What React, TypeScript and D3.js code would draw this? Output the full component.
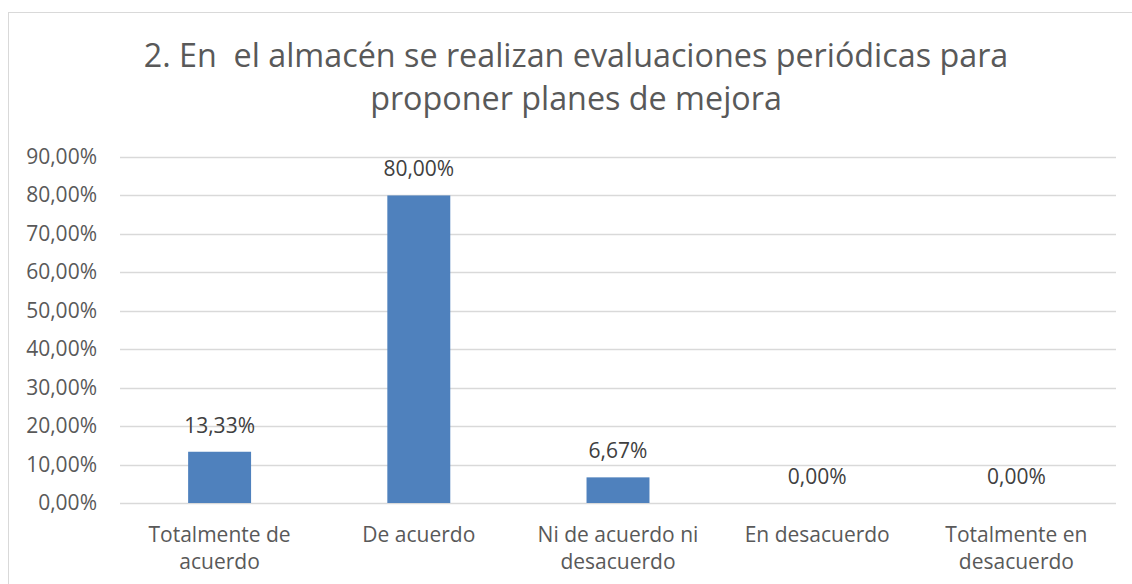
import React from "react";
import * as d3 from "d3";

const categories: string[][] = [
  ["Totalmente de", "acuerdo"],
  ["De acuerdo"],
  ["Ni de acuerdo ni", "desacuerdo"],
  ["En desacuerdo"],
  ["Totalmente en", "desacuerdo"],
];
const values: number[] = [0.1333, 0.8, 0.0667, 0, 0];
const yTicks: number[] = [0, 0.1, 0.2, 0.3, 0.4, 0.5, 0.6, 0.7, 0.8, 0.9];
const titleLines: string[] = [
  "2. En\u00a0 el almacén se realizan evaluaciones periódicas para",
  "proponer planes de mejora",
];

const W = 1132;
const H = 584;
const FONT = "'Open Sans', sans-serif";
const TXT = "#595959";

const fmt = (v: number) => (v * 100).toFixed(2).replace(".", ",") + "%";

export default function App() {
  const left = 120;
  const right = 1116;
  const top = 157;
  const bottom = 503;
  const x = d3
    .scaleBand<number>()
    .domain(d3.range(categories.length))
    .range([left, right])
    .paddingInner(0.684)
    .paddingOuter(0.342);
  const y = d3.scaleLinear().domain([0, 0.9]).range([bottom, top]);

  return (
    <svg
      width={W}
      height={H}
      style={{ position: "absolute", left: 0, top: 0, display: "block", background: "#fff" }}
      fontFamily={FONT}
    >
      <rect x={0} y={0} width={W} height={H} fill="#fff" />
      <rect x={8.5} y={12.5} width={W + 20} height={H + 20} fill="#fff" stroke="#d9d9d9" strokeWidth={1} />
      {titleLines.map((t, i) => (
        <text
          key={i}
          x={576}
          y={67 + i * 43}
          textAnchor="middle"
          fontSize={32.3}
          fill={TXT}
        >
          {t}
        </text>
      ))}
      {yTicks.map((t) => (
        <g key={t}>
          <line x1={left} x2={right} y1={Math.round(y(t)) + 0.5} y2={Math.round(y(t)) + 0.5} stroke="#d9d9d9" strokeWidth={1.3} />
          <text x={97} y={y(t) + 7} textAnchor="end" fontSize={21} fill={TXT}>
            {fmt(t)}
          </text>
        </g>
      ))}
      {values.map((v, i) => (
        <g key={i}>
          {v > 0 && (
            <rect
              x={x(i)}
              y={y(v)}
              width={x.bandwidth()}
              height={y(0) - y(v)}
              fill="#4f81bd"
            />
          )}
          <text
            x={(x(i) as number) + x.bandwidth() / 2}
            y={y(v) - 19}
            textAnchor="middle"
            fontSize={21}
            fill="#404040"
          >
            {fmt(v)}
          </text>
          {categories[i].map((line, j) => (
            <text
              key={j}
              x={(x(i) as number) + x.bandwidth() / 2}
              y={542 + j * 27}
              textAnchor="middle"
              fontSize={21}
              fill={TXT}
            >
              {line}
            </text>
          ))}
        </g>
      ))}
    </svg>
  );
}
